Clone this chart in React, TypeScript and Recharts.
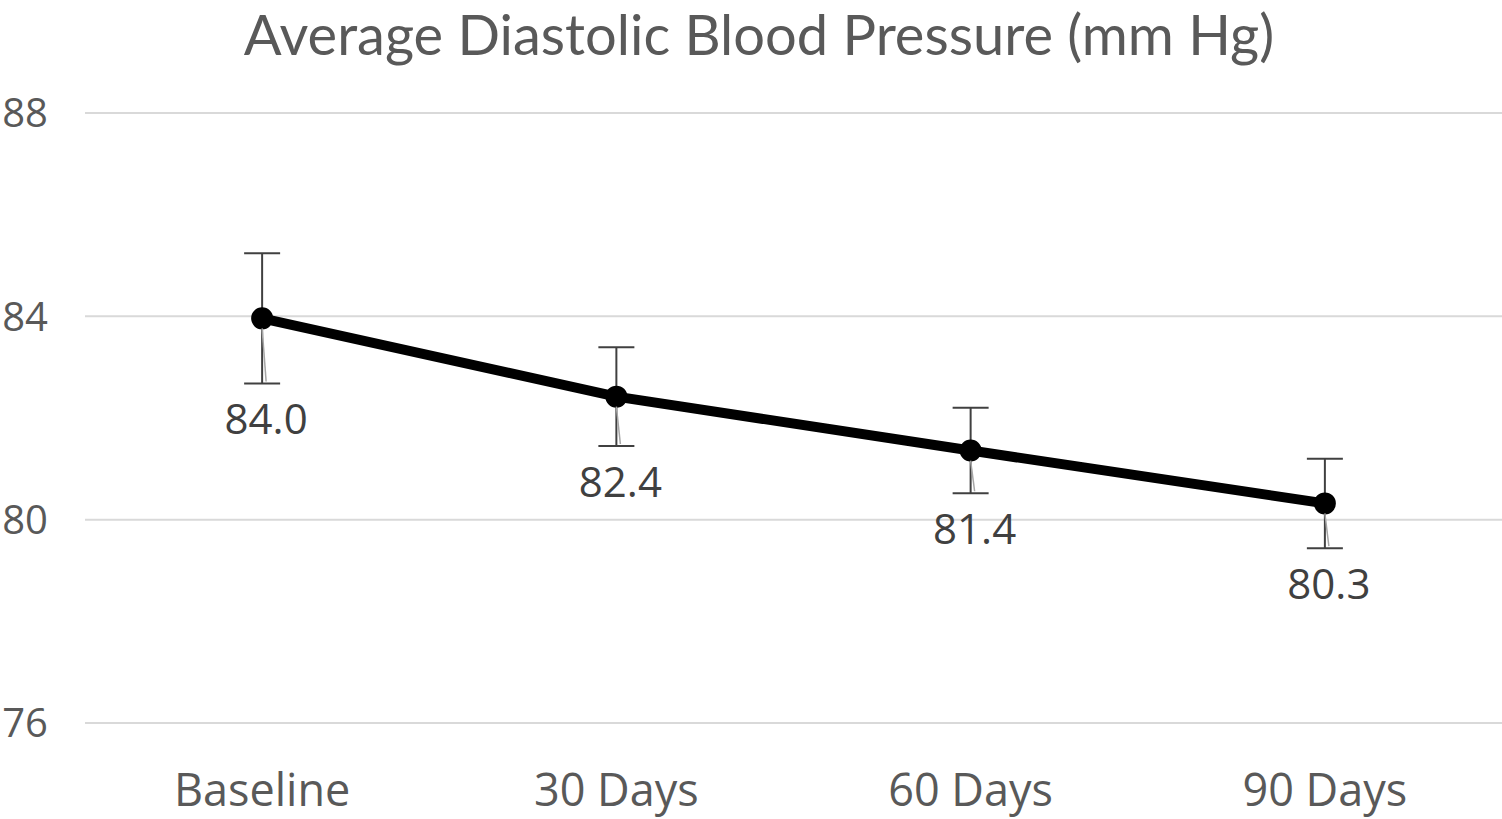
import React from 'react'
import { LineChart, Line, CartesianGrid, XAxis, YAxis, ErrorBar } from 'recharts'

const categories = ['Baseline', '30 Days', '60 Days', '90 Days']
const meanValues = [83.96, 82.42, 81.36, 80.32]
const errorValues = [1.28, 0.97, 0.84, 0.88]
const yTicks = [76, 80, 84, 88]

const data = categories.map((name, i) => ({ name, value: meanValues[i], err: errorValues[i] }))

const W = 1502
const H = 819
const TOP = 113
const XAXIS_H = 96
const Y_MIN = 76
const Y_MAX = 88
const pxPerUnit = (H - TOP - XAXIS_H) / (Y_MAX - Y_MIN)

const font = '"Open Sans", sans-serif'

const renderLabel = (props: any) => {
  const { x, y, value, index } = props
  const errPx = errorValues[index] * pxPerUnit
  const baseY = y + errPx + 36 + 15
  return (
    <g>
      <line x1={x} y1={y + 10} x2={x + 4} y2={y + errPx - 2} stroke="#a6a6a6" strokeWidth={1.5} />
      <text x={x + 4} y={baseY} textAnchor="middle" fontSize={42} fill="#404040" fontFamily={font}>
        {Number(value).toFixed(1)}
      </text>
    </g>
  )
}

export default function App() {
  return (
    <div style={{ position: 'absolute', left: 0, top: 0, width: W, height: H, background: '#fff' }}>
      <div
        style={{
          position: 'absolute',
          left: 16,
          top: 0,
          width: W - 16,
          textAlign: 'center',
          fontFamily: 'Lato, "Open Sans", sans-serif',
          fontSize: 56,
          color: '#595959',
          lineHeight: 'normal',
          whiteSpace: 'nowrap',
        }}
      >
        Average Diastolic Blood Pressure (mm Hg)
      </div>
      <LineChart width={W} height={H} data={data} margin={{ top: TOP, right: 0, bottom: 0, left: 0 }}>
        <CartesianGrid vertical={false} stroke="#d9d9d9" strokeWidth={2} />
        <XAxis
          dataKey="name"
          scale="band"
          height={XAXIS_H}
          axisLine={false}
          tickLine={false}
          tickSize={0}
          tickMargin={51}
          tick={{ fontSize: 45, fill: '#595959', fontFamily: font }}
        />
        <YAxis
          domain={[Y_MIN, Y_MAX]}
          ticks={yTicks}
          width={85}
          axisLine={false}
          tickLine={false}
          tickSize={0}
          tickMargin={37}
          tick={{ fontSize: 40, fill: '#595959', fontFamily: font }}
        />
        <Line
          type="linear"
          dataKey="value"
          stroke="#000"
          strokeWidth={10}
          dot={{ r: 10, fill: '#000', stroke: '#000', strokeWidth: 2 }}
          label={renderLabel}
          isAnimationActive={false}
        >
          <ErrorBar dataKey="err" width={18} stroke="#404040" strokeWidth={2} direction="y" />
        </Line>
      </LineChart>
    </div>
  )
}
